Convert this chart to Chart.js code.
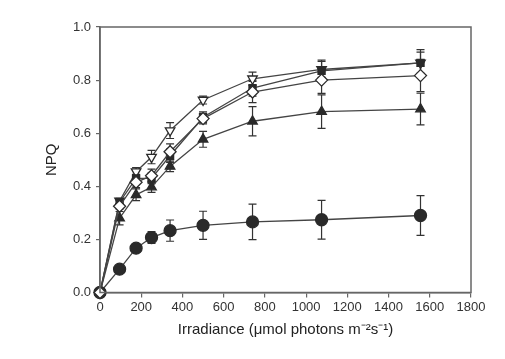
<!DOCTYPE html>
<html>
<head>
<meta charset="utf-8">
<script src="https://cdn.jsdelivr.net/npm/chart.js@4/dist/chart.umd.min.js"></script>
<style>
html,body{margin:0;padding:0;background:#fff;}
#wrap{width:505px;height:359px;}
</style>
</head>
<body>
<div id="wrap"><canvas id="c" width="505" height="359"></canvas></div>
<script>
const irradiance = [0, 95, 175, 250, 340, 500, 740, 1075, 1555];
const circles   = [0, 0.088, 0.167, 0.207, 0.233, 0.253, 0.266, 0.274, 0.290];
const circlesErr = [0, 0.006, 0.010, 0.022, 0.040, 0.053, 0.067, 0.073, 0.075];
const triUp     = [0, 0.280, 0.368, 0.397, 0.475, 0.577, 0.645, 0.681, 0.691];
const triUpErr  = [0, 0.025, 0.022, 0.020, 0.020, 0.030, 0.055, 0.063, 0.060];
const squares   = [0, 0.340, 0.430, 0.430, 0.515, 0.660, 0.770, 0.835, 0.865];
const squaresErr = [0, 0.010, 0.015, 0.020, 0.025, 0.020, 0.030, 0.040, 0.040];
const diamonds  = [0, 0.325, 0.415, 0.440, 0.530, 0.655, 0.755, 0.800, 0.817];
const diamondsErr = [0, 0.010, 0.020, 0.025, 0.030, 0.020, 0.040, 0.050, 0.060];
const triDown   = [0, 0.345, 0.455, 0.510, 0.610, 0.725, 0.805, 0.840, 0.865];
const triDownErr = [0, 0.010, 0.015, 0.025, 0.030, 0.015, 0.025, 0.030, 0.050];
const xTicks = [0, 200, 400, 600, 800, 1000, 1200, 1400, 1600, 1800];
const yTicks = [0.0, 0.2, 0.4, 0.6, 0.8, 1.0];

const dark = '#2a2a2a';
const lineCol = '#444444';
const axisCol = '#666666';
const font = "'Liberation Sans', Arial, sans-serif";

function mk(label, vals, errs, style, fill, rot, r) {
  return {
    label,
    data: irradiance.map((x, i) => ({x, y: vals[i]})),
    errors: errs,
    borderColor: lineCol,
    borderWidth: 1.3,
    pointStyle: style,
    pointRotation: rot || 0,
    pointRadius: r,
    pointBackgroundColor: fill,
    pointBorderColor: dark,
    pointBorderWidth: 1.3,
    showLine: true,
    clip: false,
    tension: 0
  };
}

const errorBars = {
  id: 'errorBars',
  beforeDatasetsDraw(chart) {
    const ctx = chart.ctx;
    const xs = chart.scales.x, ys = chart.scales.y;
    ctx.save();
    ctx.strokeStyle = '#333';
    ctx.lineWidth = 1.2;
    chart.data.datasets.forEach(ds => {
      ds.data.forEach((p, i) => {
        const e = ds.errors[i];
        if (!e) return;
        const px = xs.getPixelForValue(p.x);
        const top = ys.getPixelForValue(p.y + e);
        const bot = ys.getPixelForValue(p.y - e);
        ctx.beginPath();
        ctx.moveTo(px, top); ctx.lineTo(px, bot);
        ctx.moveTo(px - 4, top); ctx.lineTo(px + 4, top);
        ctx.moveTo(px - 4, bot); ctx.lineTo(px + 4, bot);
        ctx.stroke();
      });
    });
    ctx.restore();
  }
};

const frame = {
  id: 'frame',
  afterDraw(chart) {
    const a = chart.chartArea, ctx = chart.ctx;
    ctx.save();
    ctx.strokeStyle = axisCol;
    ctx.lineWidth = 1.5;
    ctx.strokeRect(a.left, a.top, a.right - a.left, a.bottom - a.top);
    ctx.restore();
  }
};

new Chart(document.getElementById('c'), {
  type: 'scatter',
  data: {
    datasets: [
      mk('diamonds', diamonds, diamondsErr, 'rectRot', '#ffffff', 0, 6),
      mk('squares', squares, squaresErr, 'rect', dark, 0, 5),
      mk('triDown', triDown, triDownErr, 'triangle', '#ffffff', 180, 5.5),
      mk('triUp', triUp, triUpErr, 'triangle', dark, 0, 5.5),
      mk('circles', circles, circlesErr, 'circle', dark, 0, 6)
    ]
  },
  options: {
    responsive: false,
    animation: false,
    layout: {padding: {left: 40, top: 27, right: 34, bottom: 0}},
    plugins: {legend: {display: false}, tooltip: {enabled: false}},
    scales: {
      x: {
        type: 'linear', min: 0, max: 1800,
        afterBuildTicks(s) { s.ticks = xTicks.map(v => ({value: v})); },
        afterFit(s) { s.height = 66.5; },
        grid: {display: true, drawOnChartArea: false, drawTicks: true, tickLength: 5, color: axisCol, lineWidth: 1.2},
        border: {color: axisCol, width: 1.5},
        ticks: {color: '#333', font: {family: font, size: 13}, padding: 2, maxRotation: 0, callback: v => String(v)},
        title: {display: true, text: 'Irradiance (μmol photons m⁻²s⁻¹)', color: '#222', font: {family: font, size: 15}, padding: {top: 4, bottom: 20}}
      },
      y: {
        type: 'linear', min: 0, max: 1,
        afterBuildTicks(s) { s.ticks = yTicks.map(v => ({value: v})); },
        afterFit(s) { s.width = 60; },
        grid: {display: true, drawOnChartArea: false, drawTicks: true, tickLength: 4, color: axisCol, lineWidth: 1.2},
        border: {color: axisCol, width: 1.5},
        ticks: {color: '#333', font: {family: font, size: 13}, padding: 5, callback: v => Number(v).toFixed(1)},
        title: {display: true, text: 'NPQ', color: '#222', font: {family: font, size: 15}, padding: {top: 3, bottom: 3}}
      }
    }
  },
  plugins: [errorBars, frame]
});
</script>
</body>
</html>
